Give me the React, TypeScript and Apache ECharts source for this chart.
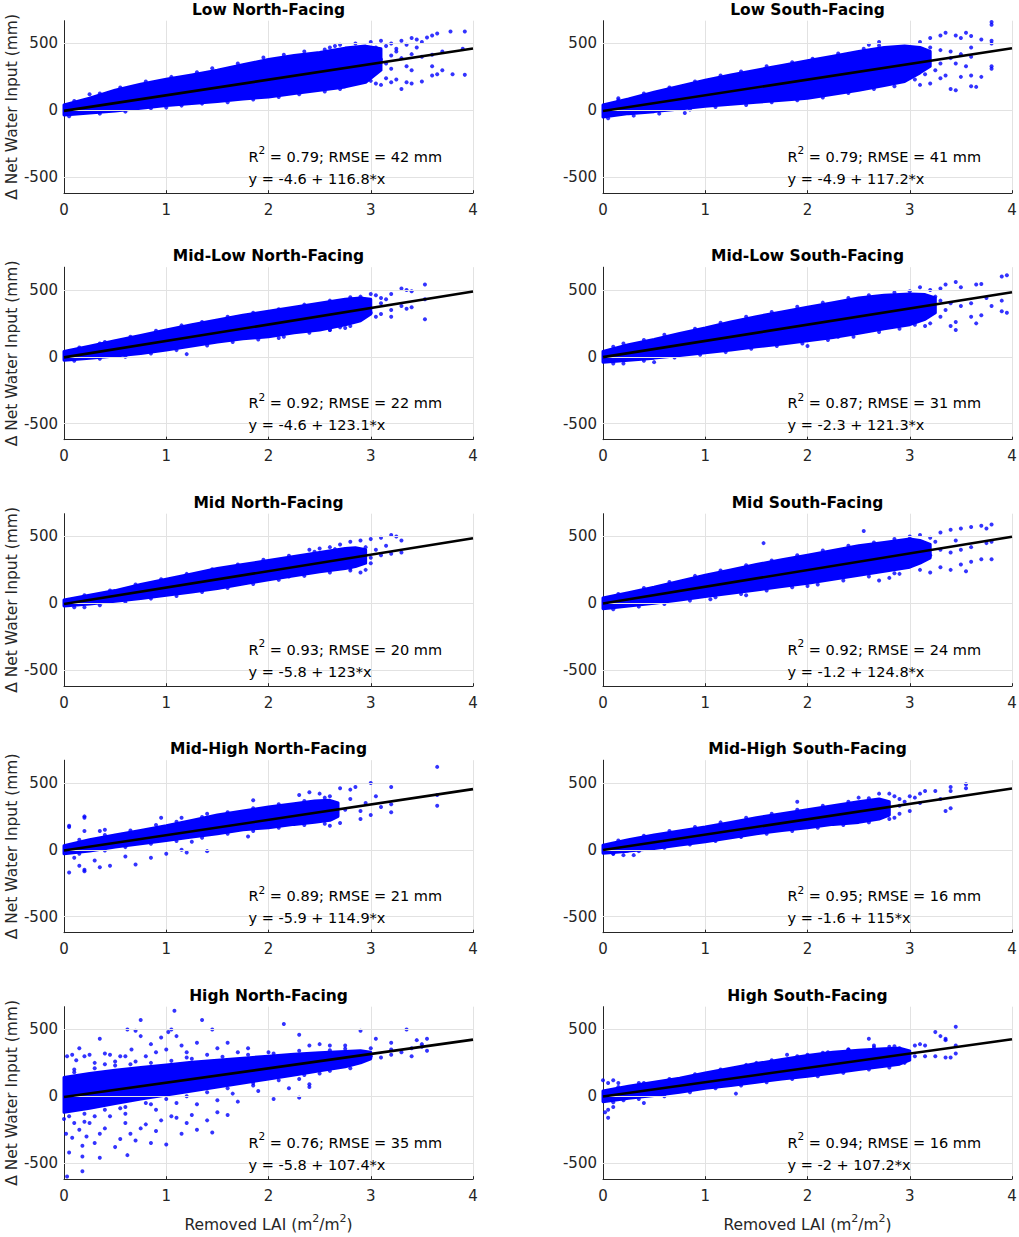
import React, { useEffect, useRef } from "react";
import * as echarts from "echarts";

// ---------- data ----------
const titles = [
  "Low North-Facing", "Low South-Facing",
  "Mid-Low North-Facing", "Mid-Low South-Facing",
  "Mid North-Facing", "Mid South-Facing",
  "Mid-High North-Facing", "Mid-High South-Facing",
  "High North-Facing", "High South-Facing",
];
const r2Values = ["0.79", "0.79", "0.92", "0.87", "0.93", "0.92", "0.89", "0.95", "0.76", "0.94"];
const rmseValues = [42, 41, 22, 31, 20, 24, 21, 16, 35, 16];
const intercepts = [-4.6, -4.9, -4.6, -2.3, -5.8, -1.2, -5.9, -1.6, -5.8, -2];
const slopes = [116.8, 117.2, 123.1, 121.3, 123, 124.8, 114.9, 115, 107.4, 107.2];
const xTicks = [0, 1, 2, 3, 4];
const yTicks = [-500, 0, 500];
const X_MIN = 0, X_MAX = 4, Y_MIN = -620, Y_MAX = 670;

// dense point-cloud envelopes: [x, lower, upper]
const bandLowN = [[0,-35,40],[0.25,-20,90],[0.5,-5,150],[0.75,15,195],[1,35,232],[1.25,50,265],[1.5,65,300],[1.75,85,340],[2,100,380],[2.25,125,410],[2.5,150,432],[2.75,175,465],[2.95,210,480],[3.1,300,460]];
const bandLowS = [[0,-50,40],[0.25,-25,85],[0.5,-10,135],[0.75,10,180],[1,30,225],[1.25,45,265],[1.5,60,300],[1.75,75,335],[2,90,370],[2.25,120,405],[2.5,150,440],[2.75,185,470],[2.95,215,480],[3.1,280,470],[3.2,330,440]];
const bandMidLowN = [[0,-25,40],[0.25,-10,80],[0.5,5,120],[0.75,25,160],[1,50,200],[1.25,80,240],[1.5,110,275],[1.75,135,310],[2,150,340],[2.25,180,370],[2.5,200,400],[2.75,240,430],[2.9,270,440],[3,320,430]];
const bandMidLowS = [[0,-40,40],[0.25,-25,90],[0.5,-10,130],[0.75,10,175],[1,30,215],[1.25,50,260],[1.5,75,300],[1.75,95,335],[2,120,370],[2.25,145,405],[2.5,175,440],[2.75,210,460],[3,240,470],[3.15,280,465],[3.25,330,440]];
const bandMidN = [[0,-20,25],[0.25,-5,60],[0.5,15,95],[0.75,35,140],[1,60,180],[1.25,85,220],[1.5,110,260],[1.75,145,290],[2,175,320],[2.25,205,350],[2.5,235,380],[2.75,260,410],[2.85,275,415],[2.95,300,400]];
const bandMidS = [[0,-40,40],[0.25,-20,80],[0.5,0,120],[0.75,25,165],[1,50,210],[1.25,75,250],[1.5,100,290],[1.75,125,325],[2,150,360],[2.25,180,395],[2.5,210,430],[2.75,240,455],[3,270,480],[3.1,300,470],[3.2,340,440]];
const bandMidHighN = [[0,-30,30],[0.25,-10,75],[0.5,20,110],[0.75,45,145],[1,70,180],[1.25,95,220],[1.5,120,260],[1.75,150,290],[2,165,320],[2.25,190,345],[2.45,205,365],[2.6,220,370],[2.68,250,350]];
const bandMidHighS = [[0,-25,35],[0.25,-10,75],[0.5,10,110],[0.75,35,140],[1,60,170],[1.25,90,205],[1.5,120,240],[1.75,145,270],[2,165,300],[2.25,190,330],[2.5,205,360],[2.7,230,380],[2.8,260,360]];
const bandHighN = [[0,-120,140],[0.25,-90,170],[0.5,-55,195],[0.75,-20,215],[1,10,235],[1.25,40,255],[1.5,70,270],[1.75,100,285],[2,130,300],[2.25,160,315],[2.5,190,325],[2.75,220,335],[2.9,250,340],[3,280,330]];
const bandHighS = [[0,-40,40],[0.25,-15,75],[0.5,5,105],[0.75,30,135],[1,60,175],[1.25,80,210],[1.5,105,245],[1.75,130,275],[2,150,305],[2.25,175,330],[2.5,200,345],[2.75,225,355],[2.9,240,360],[3,270,340]];

// individual points around and beyond the dense cloud: [x, y]
const ptsLowN = [[0.25,120],[1,20],[2.9,230],[3,510],[3.05,470],[3.1,520],[3.15,480],[3.2,500],[3.25,460],[3.3,520],[3.35,490],[3.4,540],[3.45,530],[3.5,510],[3.55,545],[3.6,560],[3.65,575],[3.78,590],[3.92,590],[3,400],[3.1,380],[3.2,410],[3.3,390],[3.4,420],[3.5,400],[3.6,415],[3.7,440],[3,220],[3.05,200],[3.1,190],[3.15,240],[3.2,210],[3.25,230],[3.3,160],[3.35,210],[3.4,200],[3.5,215],[3.6,260],[3.65,270],[3.8,270],[3.92,265],[3.05,300],[3.2,310],[3.4,300],[3.6,330],[3.7,300],[2.85,500],[2.7,490],[2.6,470],[3.9,460],
  [0.1,70],[0.35,125],[0.55,170],[0.8,215],[1.05,250],[1.3,285],[1.45,315],[1.7,350],[1.95,395],[2.15,415],[2.35,440],[2.55,455],[2.65,480],
  [0.05,-45],[0.35,-25],[0.6,-10],[0.85,15],[1.15,35],[1.35,50],[1.6,60],[1.85,80],[2.1,100],[2.3,120],[2.55,140],[2.7,160],[3.15,350],[3.25,440],[3.45,470],[3.35,330]];
const ptsLowS = [[0.3,80],[0.15,90],[0.8,-20],[2.6,490],[2.7,510],[3.1,510],[3.2,540],[3.3,560],[3.35,580],[3.45,560],[3.5,540],[3.55,580],[3.6,555],[3.7,530],[3.8,660],[3.8,640],[3.8,520],[3.8,500],[3.8,330],[3.8,310],[3.6,180],[3.65,175],[3.45,150],[3.4,160],[3.3,240],[3.2,200],[3.1,190],[3.05,230],[3.15,270],[3.25,300],[3.35,260],[3.5,250],[3.6,260],[3.7,250],[3.6,400],[3.5,420],[3.4,440],[3.3,450],[3.2,470],[3.6,470],[3.45,350],[3.55,330],[3.05,420],[3.15,380],
  [0.15,75],[0.4,125],[0.65,170],[0.9,215],[1.15,260],[1.35,290],[1.6,330],[1.85,360],[2.05,385],[2.3,425],[2.55,460],[2.7,485],
  [0.05,-60],[0.3,-40],[0.55,-25],[0.85,5],[1.1,25],[1.4,40],[1.65,60],[1.9,75],[2.15,95],[2.4,130],[2.65,160],[2.85,180],[3.3,350],[3.4,390]];
const ptsMidLowN = [[0.35,100],[1.2,20],[1.8,150],[2.1,140],[2.9,450],[3,470],[3.05,460],[3.1,440],[3.15,430],[3.2,470],[3.3,510],[3.35,500],[3.4,490],[3.53,540],[3.53,430],[3.53,280],[3.4,370],[3.35,360],[3.3,380],[3.2,350],[3.1,320],[3.05,300],[3,330],[3.2,300],[2.8,230],[2.7,220],[2.6,200],[3.1,400],
  [0.15,70],[0.4,110],[0.65,150],[0.9,195],[1.15,235],[1.35,260],[1.6,300],[1.85,330],[2.1,355],[2.35,390],[2.6,420],[2.8,445],
  [0.1,-30],[0.35,-15],[0.6,0],[0.85,25],[1.1,50],[1.4,85],[1.65,110],[1.9,130],[2.15,150],[2.4,180],[2.6,200],[2.75,215]];
const ptsMidLowS = [[0.2,100],[0.2,-50],[0.5,-40],[2,80],[2.3,150],[3,490],[3.1,520],[3.2,500],[3.3,510],[3.35,540],[3.45,560],[3.5,520],[3.65,540],[3.7,545],[3.9,600],[3.95,610],[3.9,420],[3.9,340],[3.95,330],[3.7,310],[3.6,300],[3.65,250],[3.45,260],[3.45,200],[3.4,230],[3.3,300],[3.2,250],[3.15,230],[3.05,240],[3.1,280],[3.6,400],[3.5,380],[3.4,400],[3.3,420],[3.75,440],[3.8,380],
  [0.1,75],[0.4,125],[0.6,165],[0.9,210],[1.15,255],[1.4,300],[1.65,335],[1.9,375],[2.15,405],[2.4,440],[2.6,460],[2.85,480],
  [0.1,-50],[0.4,-30],[0.7,-5],[0.95,15],[1.2,35],[1.45,60],[1.7,80],[1.95,100],[2.2,125],[2.45,150],[2.7,185],[2.9,210],[3.35,350],[3.25,450]];
const ptsMidN = [[0.2,-30],[1.5,240],[1.7,150],[2.2,200],[2.4,400],[2.5,410],[2.6,420],[2.7,440],[2.8,460],[2.9,470],[3,480],[3.1,490],[3.2,510],[3.25,500],[3.3,470],[3.3,380],[3.2,370],[3.1,360],[3,340],[2.95,250],[2.9,230],[2.8,260],[2.6,250],[3.05,400],[3.15,430],
  [0.2,60],[0.45,95],[0.7,140],[0.95,180],[1.2,220],[1.45,255],[1.7,290],[1.95,325],[2.2,355],[2.45,385],[2.65,405],
  [0.1,-30],[0.35,-15],[0.6,10],[0.85,35],[1.1,55],[1.35,85],[1.6,115],[1.85,145],[2.1,175],[2.35,205],[2.6,230],[2.8,245],[3,300],[2.95,420]];
const ptsMidS = [[1.05,30],[1.4,60],[1.57,450],[2,130],[2.55,540],[3,500],[3.1,510],[3.2,490],[3.3,530],[3.4,550],[3.5,560],[3.6,570],[3.7,580],[3.8,590],[3.75,560],[3.8,460],[3.75,450],[3.8,330],[3.7,330],[3.6,310],[3.5,290],[3.55,240],[3.4,250],[3.3,270],[3.2,230],[3.1,250],[2.9,220],[2.8,190],[2.7,170],[3.2,360],[3.4,380],[3.5,400],[3.6,420],[3.3,400],
  [0.15,70],[0.4,115],[0.65,160],[0.9,205],[1.15,245],[1.4,285],[1.65,320],[1.9,360],[2.15,395],[2.4,430],[2.65,455],[2.85,480],
  [0.1,-45],[0.35,-25],[0.6,-5],[0.85,20],[1.1,45],[1.35,70],[1.6,95],[1.85,120],[2.1,140],[2.35,170],[2.6,200],[2.85,225],[3.25,460],[3.45,470]];
const ptsMidHighN = [[0.05,180],[0.05,170],[0.2,250],[0.2,240],[0.2,140],[0.35,140],[0.4,150],[0.15,-120],[0.05,-170],[0.2,-160],[0.2,-150],[0.1,-60],[0.3,-80],[0.35,-130],[0.45,-120],[0.7,-110],[0.6,-50],[0.85,-60],[1,-30],[1.2,-20],[1.15,0],[1.4,-10],[1.25,60],[1.8,100],[1.85,370],[2.3,410],[2.4,430],[2.5,420],[2.6,400],[2.7,460],[2.8,450],[2.85,470],[3,500],[3.2,470],[3.65,620],[3.65,410],[3.65,330],[3.2,280],[3.2,340],[3,260],[2.9,230],[2.7,200],[2.6,180],[3.05,400],[2.95,350],[3.1,320],[1.4,270],[1.15,240],[0.95,240],
  [0.15,75],[0.4,110],[0.65,145],[0.9,185],[1.1,210],[1.35,245],[1.6,280],[1.85,310],[2.1,340],[2.35,365],[2.55,390],
  [0.15,-30],[0.4,-5],[0.6,20],[0.85,45],[1.1,65],[1.35,90],[1.6,120],[1.85,140],[2.1,165],[2.35,185],[2.55,195],[2.75,300],[2.8,380],[2.9,290]];
const ptsMidHighS = [[0.1,-30],[0.2,-40],[0.3,-40],[1.9,360],[2.5,390],[2.7,420],[2.8,420],[2.85,400],[2.9,380],[3,400],[3.05,390],[3.1,420],[3.15,440],[3.25,440],[3.3,380],[3.4,470],[3.4,440],[3.35,290],[3.4,310],[3.55,490],[3.55,460],[3,290],[2.9,270],[2.85,240],[2.8,230],[2.75,260],[3.1,350],
  [0.15,70],[0.4,105],[0.65,140],[0.9,170],[1.15,205],[1.4,240],[1.65,270],[1.9,300],[2.15,330],[2.4,360],[2.6,385],
  [0.1,-30],[0.35,-10],[0.6,15],[0.85,40],[1.1,65],[1.35,95],[1.6,120],[1.85,140],[2.1,165],[2.35,185],[2.6,205],[2.9,330],[2.95,360]];
const ptsHighN = [[0.03,300],[0.08,310],[0.15,360],[0.12,270],[0.2,300],[0.25,310],[0.3,250],[0.35,430],[0.4,320],[0.45,310],[0.5,260],[0.55,300],[0.6,300],[0.62,500],[0.66,350],[0.7,490],[0.75,570],[0.75,450],[0.8,300],[0.85,390],[0.9,330],[0.95,440],[1,350],[1.02,480],[1.05,500],[1.1,450],[1.08,640],[1.15,380],[1.2,330],[1.3,400],[1.35,570],[1.4,310],[1.45,500],[1.5,360],[1.6,400],[1.7,330],[1.8,360],[2,330],[2.15,540],[2.3,460],[2.4,380],[2.5,390],[2.6,380],[2.75,380],[2.9,490],[3,360],[3.05,430],[3.2,400],[3.35,500],[3.45,420],[3.5,390],[3.55,430],[3.55,340],[3.4,300],[3.3,330],[3.2,310],[3.1,290],[3,300],[2.9,280],[0,-170],[0.02,-280],[0.05,-420],[0.03,-600],[0.08,-310],[0.1,-200],[0.15,-250],[0.18,-450],[0.18,-370],[0.18,-560],[0.22,-300],[0.25,-200],[0.3,-350],[0.35,-460],[0.35,-280],[0.4,-240],[0.45,-150],[0.5,-380],[0.55,-320],[0.6,-200],[0.62,-440],[0.65,-280],[0.7,-330],[0.75,-240],[0.8,-210],[0.85,-350],[0.9,-260],[0.95,-180],[1,-360],[1.05,-150],[1.1,-160],[1.15,-280],[1.2,-200],[1.25,-140],[1.3,-250],[1.4,-180],[1.45,-270],[1.5,-120],[1.6,-140],[1.7,-40],[1.5,-30],[1.9,40],[2.05,-20],[2.3,-10],[2.4,90],[2.4,70],[2.3,130],[2.5,170],[1.85,80],[1.3,-60],[0.9,-100],[0.6,-130],[0.3,-150],[0.1,200],[0.4,240],[0.7,260],[1.2,290],[0.55,-90],[0.85,-60],[1.1,-50],[1.65,20],[2.2,60],[0.2,-190],[3.2,350],[3.4,360],[3.5,370],
  [0.1,180],[0.3,210],[0.5,230],[0.65,240],[0.85,250],[1.05,265],[1.25,280],[1.55,295],[1.8,310],[2.05,320],[2.3,340],[2.6,345],[2.75,355],
  [0.05,-150],[0.2,-130],[0.4,-100],[0.6,-80],[0.8,-50],[1,-20],[1.2,0],[1.4,30],[1.6,60],[1.85,100],[2.1,120],[2.35,160],[2.6,190],[2.8,210]];
const ptsHighS = [[0,120],[0.05,100],[0.1,120],[0.15,100],[0.02,-120],[0.05,-160],[0.05,-100],[0.1,-80],[0.2,-30],[0.4,-50],[0.35,100],[1.3,20],[1.5,250],[1.8,310],[2,310],[2.2,330],[2.4,350],[2.6,340],[2.6,430],[2.65,380],[2.8,370],[2.9,360],[2.95,330],[2.95,250],[3.05,380],[3.1,390],[3.15,380],[3.25,480],[3.3,450],[3.35,430],[3.35,420],[3.25,300],[3.35,290],[3.4,290],[3.45,520],[3.45,380],[3.45,320],[3.15,300],[3.05,300],[2.8,250],[2.6,230],
  [0.15,70],[0.4,100],[0.65,130],[0.9,165],[1.15,200],[1.4,235],[1.65,270],[1.9,300],[2.15,325],[2.4,350],[2.65,365],[2.85,375],
  [0.1,-45],[0.35,-20],[0.6,0],[0.85,30],[1.1,60],[1.35,80],[1.6,105],[1.85,130],[2.1,150],[2.35,175],[2.6,200],[2.8,215]];

const bands = [bandLowN, bandLowS, bandMidLowN, bandMidLowS, bandMidN, bandMidS, bandMidHighN, bandMidHighS, bandHighN, bandHighS];
const points = [ptsLowN, ptsLowS, ptsMidLowN, ptsMidLowS, ptsMidN, ptsMidS, ptsMidHighN, ptsMidHighS, ptsHighN, ptsHighS];

// ---------- layout / style ----------
const FONT = '"DejaVu Sans", "Liberation Sans", sans-serif';
const COL_LEFT = [64, 603];
const PW = 409;
const PH = 172.5;
const ROW_TOP0 = 20.7;
const ROW_STEP = 246.5;
const AXIS_COLOR = "#262626";
const GRID_COLOR = "#e2e2e2";
const BLUE = "#0000ff";

function buildOption() {
  const grid: any[] = [];
  const xAxis: any[] = [];
  const yAxis: any[] = [];
  const series: any[] = [];
  const graphic: any[] = [];

  titles.forEach((title, i) => {
    const col = i % 2;
    const row = Math.floor(i / 2);
    const left = COL_LEFT[col];
    const top = ROW_TOP0 + ROW_STEP * row;
    grid.push({ left, top, width: PW, height: PH, containLabel: false, outerBoundsMode: "none" });

    const isBottom = row === 4;
    xAxis.push({
      gridIndex: i,
      type: "value",
      min: X_MIN,
      max: X_MAX,
      interval: 1,
      axisLine: { show: true, onZero: false, lineStyle: { color: AXIS_COLOR, width: 1 } },
      axisTick: { show: true, inside: true, length: 3, lineStyle: { color: AXIS_COLOR, width: 1 } },
      axisLabel: {
        color: AXIS_COLOR, fontFamily: FONT, fontSize: 15, margin: 9,
      },
      splitLine: { show: true, lineStyle: { color: GRID_COLOR, width: 1 } },
      name: isBottom ? "{a|Removed LAI (m}{s|2}{a|/m}{s|2}{a|)}" : "",
      nameLocation: "middle",
      nameGap: 34,
      nameTextStyle: {
        color: AXIS_COLOR, fontFamily: FONT, fontSize: 15.5,
        rich: {
          a: { color: AXIS_COLOR, fontFamily: FONT, fontSize: 15.5, lineHeight: 24 },
          s: { color: AXIS_COLOR, fontFamily: FONT, fontSize: 11, lineHeight: 15, verticalAlign: "top" },
        },
      },
    });
    yAxis.push({
      gridIndex: i,
      type: "value",
      min: Y_MIN,
      max: Y_MAX,
      axisLine: { show: true, onZero: false, lineStyle: { color: AXIS_COLOR, width: 1 } },
      axisTick: { show: true, inside: true, length: 3, customValues: yTicks, lineStyle: { color: AXIS_COLOR, width: 1 } },
      axisLabel: { color: AXIS_COLOR, fontFamily: FONT, fontSize: 15, margin: 6, customValues: yTicks },
      splitLine: { show: false },
      name: col === 0 ? "\u0394 Net Water Input (mm)" : "",
      nameLocation: "middle",
      nameGap: 43,
      nameTextStyle: { color: AXIS_COLOR, fontFamily: FONT, fontSize: 15.5 },
    });

    // horizontal grid lines at the y ticks
    series.push({
      type: "line",
      xAxisIndex: i,
      yAxisIndex: i,
      data: [],
      z: 1,
      silent: true,
      markLine: {
        silent: true,
        symbol: ["none", "none"],
        label: { show: false },
        lineStyle: { color: GRID_COLOR, width: 1, type: "solid" },
        emphasis: { disabled: true },
        data: yTicks.map((v) => ({ yAxis: v })),
      },
    });

    const band = bands[i];
    series.push({
      type: "custom",
      xAxisIndex: i,
      yAxisIndex: i,
      z: 2,
      silent: true,
      data: band,
      dimensions: ["x", "lo", "hi"],
      encode: { x: 0, y: [1, 2] },
      renderItem: (params: any, api: any) => {
        if (params.dataIndex !== 0) return null;
        const upper = band.map((d) => api.coord([d[0], d[2]]));
        const lower = band.slice().reverse().map((d) => api.coord([d[0], d[1]]));
        return {
          type: "polygon",
          shape: { points: upper.concat(lower) },
          style: { fill: BLUE, stroke: BLUE, lineWidth: 3, lineJoin: "round" },
        };
      },
    });

    series.push({
      type: "scatter",
      xAxisIndex: i,
      yAxisIndex: i,
      z: 3,
      silent: true,
      symbol: "circle",
      symbolSize: 4,
      itemStyle: { color: BLUE },
      data: points[i],
    });

    const a = intercepts[i];
    const b = slopes[i];
    series.push({
      type: "line",
      xAxisIndex: i,
      yAxisIndex: i,
      z: 5,
      silent: true,
      symbol: "none",
      lineStyle: { color: "#000000", width: 2.6 },
      data: [[X_MIN, a + b * X_MIN], [X_MAX, a + b * X_MAX]],
    });

    graphic.push({
      type: "text",
      x: left + PW / 2,
      y: top - 11,
      z: 100,
      silent: true,
      style: {
        text: title,
        fill: "#000000",
        fontFamily: FONT,
        fontSize: 15.5,
        fontWeight: "bold",
        align: "center",
        verticalAlign: "middle",
        textAlign: "center",
        textVerticalAlign: "middle",
      },
    });

    const rich = {
      a: { fill: "#000000", color: "#000000", fontFamily: FONT, fontSize: 14.5, lineHeight: 24 },
      s: { fill: "#000000", color: "#000000", fontFamily: FONT, fontSize: 10.5, lineHeight: 15, verticalAlign: "top" },
    };
    graphic.push({
      type: "text",
      x: left + 184.5,
      y: top + 136,
      z: 100,
      silent: true,
      style: {
        text: `{a|R}{s|2}{a| = ${r2Values[i]}; RMSE = ${rmseValues[i]} mm}`,
        rich,
        fill: "#000000",
        fontFamily: FONT,
        fontSize: 14.5,
        align: "left",
        verticalAlign: "middle",
        textAlign: "left",
        textVerticalAlign: "middle",
      },
    });
    graphic.push({
      type: "text",
      x: left + 184.5,
      y: top + 158,
      z: 100,
      silent: true,
      style: {
        text: `y = ${a} + ${b}*x`,
        fill: "#000000",
        fontFamily: FONT,
        fontSize: 14.5,
        align: "left",
        verticalAlign: "middle",
        textAlign: "left",
        textVerticalAlign: "middle",
      },
    });
  });

  return {
    animation: false,
    backgroundColor: "#ffffff",
    grid,
    xAxis,
    yAxis,
    series,
    graphic,
  };
}

export default function App() {
  const ref = useRef<HTMLDivElement>(null);
  useEffect(() => {
    document.body.style.margin = "0";
    const chart = echarts.init(ref.current as HTMLDivElement, null, { renderer: "svg" });
    chart.setOption(buildOption() as any);
    return () => {
      chart.dispose();
    };
  }, []);
  return <div ref={ref} style={{ width: 1019, height: 1237, background: "#ffffff" }} />;
}
